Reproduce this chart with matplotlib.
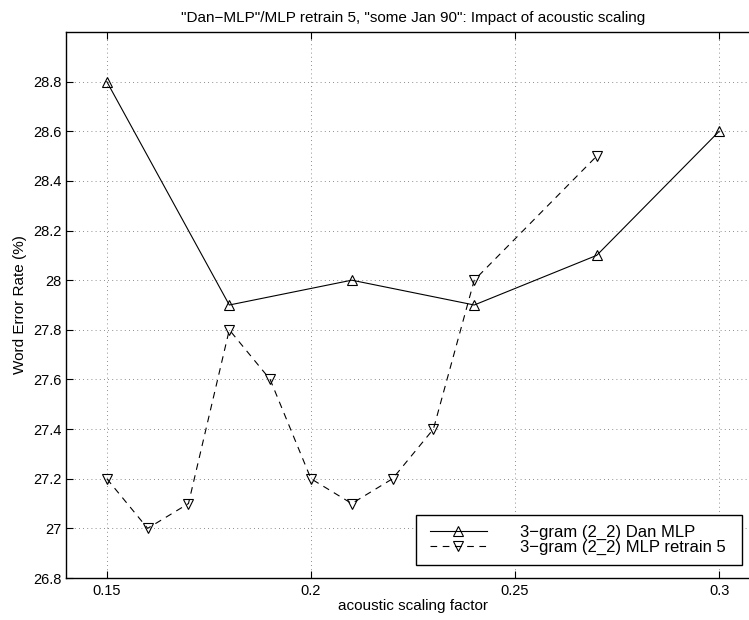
import matplotlib
matplotlib.use("Agg")
import matplotlib.pyplot as plt
from matplotlib.patches import Rectangle

x_dan = [0.15, 0.18, 0.21, 0.24, 0.27, 0.30]
y_dan = [28.8, 27.9, 28.0, 27.9, 28.1, 28.6]
x_retrain = [0.15, 0.16, 0.17, 0.18, 0.19, 0.20, 0.21, 0.22, 0.23, 0.24, 0.27]
y_retrain = [27.2, 27.0, 27.1, 27.8, 27.6, 27.2, 27.1, 27.2, 27.4, 28.0, 28.5]
xticks = [0.15, 0.2, 0.25, 0.3]
xtick_labels = ["0.15", "0.2", "0.25", "0.3"]
yticks = [26.8, 27.0, 27.2, 27.4, 27.6, 27.8, 28.0, 28.2, 28.4, 28.6, 28.8]
ytick_labels = ["26.8", "27", "27.2", "27.4", "27.6", "27.8", "28", "28.2", "28.4", "28.6", "28.8"]
labels = ["3\u2212gram (2_2) Dan MLP", "3\u2212gram (2_2) MLP retrain 5"]
title = "\"Dan\u2212MLP\"/MLP retrain 5, \"some Jan 90\": Impact of acoustic scaling"

plt.rcParams['font.family'] = ['Liberation Sans', 'DejaVu Sans']

W, H = 749, 620
fig = plt.figure(figsize=(W / 100, H / 100), dpi=100)
left, right, top, bottom = 66, 760, 32, 578
ax = fig.add_axes([left / W, 1 - bottom / H, (right - left) / W, (bottom - top) / H])

ax.plot(x_dan, y_dan, color='black', linestyle='-', linewidth=0.8,
        marker='^', markersize=7.5, markerfacecolor='none', markeredgecolor='black',
        markeredgewidth=0.8, label=labels[0])
ax.plot(x_retrain, y_retrain, color='black', linestyle=(0, (6, 5)), linewidth=0.8,
        marker='v', markersize=7.5, markerfacecolor='none', markeredgecolor='black',
        markeredgewidth=0.8, label=labels[1])

ax.set_xlim(0.14, 0.31)
ax.set_ylim(26.8, 29.0)
ax.set_xticks(xticks)
ax.set_xticklabels(xtick_labels, fontsize=10.5)
ax.set_yticks(yticks)
ax.set_yticklabels(ytick_labels, fontsize=10.5)
ax.tick_params(direction='in', top=True, right=True, length=5, width=0.8, pad=4)
ax.tick_params(axis='y', pad=3)
ax.grid(True, linestyle=(0, (1, 4)), color='black', linewidth=0.6, alpha=0.6)
for s in ax.spines.values():
    s.set_linewidth(1.0)

ax.set_title(title, fontsize=11, pad=7)
ax.set_xlabel("acoustic scaling factor", fontsize=11, labelpad=1)
ax.set_ylabel("Word Error Rate (%)", fontsize=11, labelpad=5)

# legend box (MATLAB-style, fixed size; text may overflow)
box = Rectangle((416 / W, 1 - 565 / H), 326 / W, 50 / H, transform=fig.transFigure,
                facecolor='white', edgecolor='black', linewidth=1.0, zorder=4)
ax.add_patch(box)
leg = ax.legend(loc='center left', bbox_to_anchor=(430 / W, 1 - 540 / H),
                bbox_transform=fig.transFigure,
                fontsize=12, frameon=False,
                handlelength=3.4, borderpad=0, labelspacing=0.0, handletextpad=2.0,
                borderaxespad=0)
leg.set_zorder(5)

fig.savefig("out.png", dpi=100)
